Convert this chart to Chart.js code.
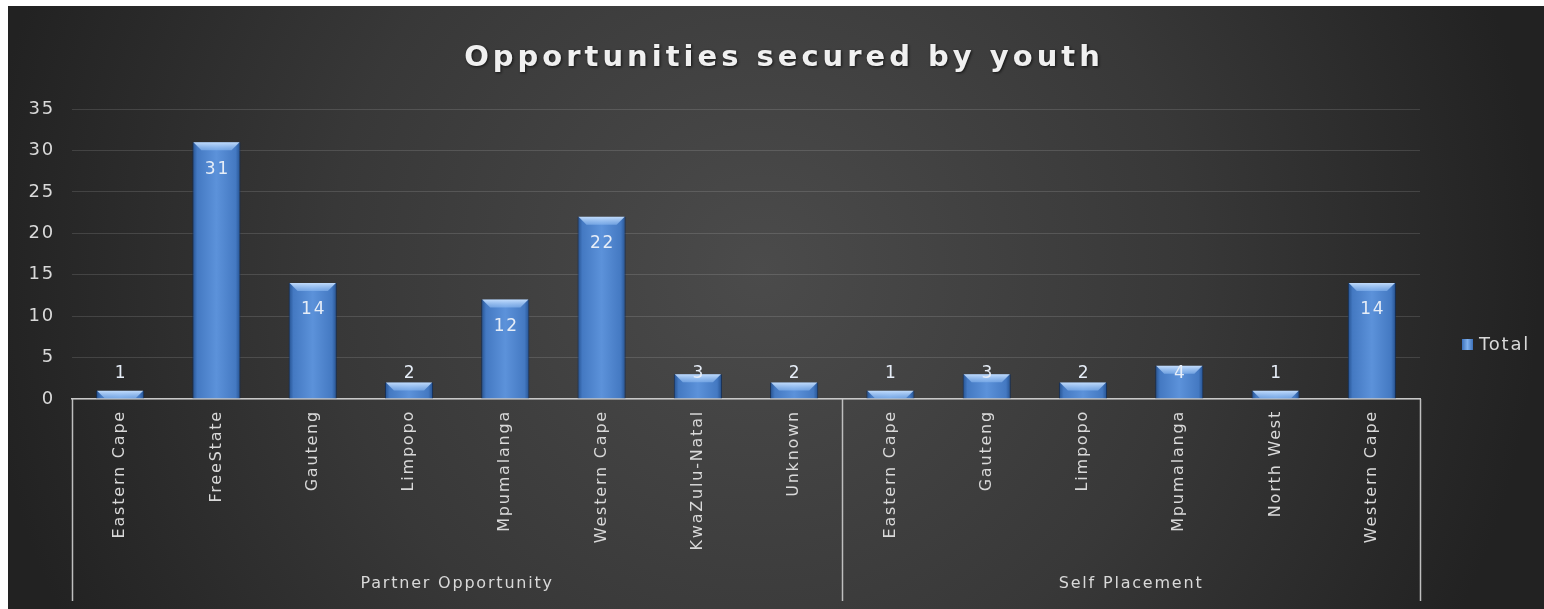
<!DOCTYPE html>
<html>
<head>
<meta charset="utf-8">
<script src="https://cdn.jsdelivr.net/npm/chart.js@4.4.1/dist/chart.umd.min.js"></script>
<style>
  html, body { margin: 0; padding: 0; background: #ffffff; }
  #wrap { position: relative; width: 1544px; height: 609px; }
</style>
</head>
<body>
<div id="wrap"><canvas id="c" width="1544" height="609"></canvas></div>
<script>
// ---- Data ----
const chartTitle = "Opportunities secured by youth";
const seriesName = "Total";
const groupNames = ["Partner Opportunity", "Self Placement"];
const partnerProvinces = ["Eastern Cape", "FreeState", "Gauteng", "Limpopo", "Mpumalanga", "Western Cape", "KwaZulu-Natal", "Unknown"];
const partnerTotals = [1, 31, 14, 2, 12, 22, 3, 2];
const selfProvinces = ["Eastern Cape", "Gauteng", "Limpopo", "Mpumalanga", "North West", "Western Cape"];
const selfTotals = [1, 3, 2, 4, 1, 14];
const yTicks = [0, 5, 10, 15, 20, 25, 30, 35];

const categories = partnerProvinces.concat(selfProvinces);
const totals = partnerTotals.concat(selfTotals);
const groupSizes = [partnerProvinces.length, selfProvinces.length];

const FONT = '"DejaVu Sans", sans-serif';
const TEXT = '#d9d9d9';
const BAR_PCT = 0.5;
const SPACING = '1.8px';

function barFill(ctx) {
  const chart = ctx.chart;
  const xs = chart.scales && chart.scales.x;
  if (!xs || ctx.dataIndex === undefined) return '#4f83c9';
  const cx = xs.getPixelForValue(ctx.dataIndex);
  const step = xs.width / categories.length;
  const w = step * BAR_PCT;
  if (!isFinite(cx)) return '#4f83c9';
  const g = chart.ctx.createLinearGradient(cx - w / 2, 0, cx + w / 2, 0);
  g.addColorStop(0, '#23508f');
  g.addColorStop(0.1, '#4479c2');
  g.addColorStop(0.5, '#5c92da');
  g.addColorStop(0.9, '#4479c2');
  g.addColorStop(1, '#23508f');
  return g;
}

const spacingPlugin = {
  id: 'spacing',
  beforeUpdate(chart) { chart.ctx.letterSpacing = SPACING; },
  beforeDraw(chart) { chart.ctx.letterSpacing = SPACING; }
};

const bgPlugin = {
  id: 'bg',
  beforeDraw(chart) {
    const c = chart.ctx;
    c.save();
    c.fillStyle = '#ffffff';
    c.fillRect(0, 0, chart.width, chart.height);
    const g = c.createRadialGradient(760, 270, 0, 760, 270, 780);
    g.addColorStop(0, '#4b4b4b');
    g.addColorStop(0.55, '#383838');
    g.addColorStop(1, '#222222');
    c.fillStyle = g;
    c.fillRect(8, 6, chart.width - 8, chart.height - 6);
    // title
    c.letterSpacing = '4px';
    c.font = 'bold 29px ' + FONT;
    c.textAlign = 'center';
    c.textBaseline = 'alphabetic';
    c.shadowColor = 'rgba(0,0,0,0.7)';
    c.shadowBlur = 3;
    c.shadowOffsetX = 1;
    c.shadowOffsetY = 1;
    c.fillStyle = '#f0f0f0';
    c.fillText(chartTitle, 784, 66);
    c.restore();
    c.letterSpacing = SPACING;
  }
};

const overlayPlugin = {
  id: 'overlay',
  afterDatasetsDraw(chart) {
    const c = chart.ctx;
    const meta = chart.getDatasetMeta(0);
    c.save();
    // top bevel
    meta.data.forEach((el) => {
      const h = Math.min(8, el.base - el.y);
      const l = el.x - el.width / 2, r = el.x + el.width / 2;
      const g = c.createLinearGradient(0, el.y, 0, el.y + h);
      g.addColorStop(0, 'rgba(200,225,255,0.95)');
      g.addColorStop(1, 'rgba(140,185,240,0.6)');
      c.fillStyle = g;
      c.beginPath();
      c.moveTo(l + 1, el.y);
      c.lineTo(r - 1, el.y);
      c.lineTo(r - 1 - h, el.y + h);
      c.lineTo(l + 1 + h, el.y + h);
      c.closePath();
      c.fill();
    });
    // data labels
    c.letterSpacing = SPACING;
    c.font = '17px ' + FONT;
    c.fillStyle = '#e6edf7';
    c.textAlign = 'center';
    c.textBaseline = 'middle';
    meta.data.forEach((el, i) => {
      const y = Math.min(el.y + 27, el.base - 25);
      c.fillText(String(totals[i]), el.x + 1, y);
    });
    c.restore();
  },
  afterDraw(chart) {
    const c = chart.ctx;
    const xs = chart.scales.x;
    const area = chart.chartArea;
    c.save();
    c.letterSpacing = SPACING;
    // group separators and labels
    const bounds = [xs.left];
    let idx = 0;
    groupSizes.forEach((n, gi) => {
      idx += n;
      if (gi < groupSizes.length - 1) {
        bounds.push((xs.getPixelForValue(idx - 1) + xs.getPixelForValue(idx)) / 2);
      }
    });
    bounds.push(xs.right);
    c.strokeStyle = '#bfbfbf';
    c.lineWidth = 1.5;
    bounds.forEach((bx) => {
      c.beginPath();
      c.moveTo(Math.round(bx) + 0.5, area.bottom);
      c.lineTo(Math.round(bx) + 0.5, 601);
      c.stroke();
    });
    c.font = '16px ' + FONT;
    c.fillStyle = TEXT;
    c.textAlign = 'center';
    c.textBaseline = 'middle';
    groupNames.forEach((name, gi) => {
      c.fillText(name, (bounds[gi] + bounds[gi + 1]) / 2, 584);
    });
    // legend
    const lx = area.right + 42, ly = 344;
    const lg = c.createLinearGradient(lx, 0, lx + 11, 0);
    lg.addColorStop(0, '#3d72bb');
    lg.addColorStop(0.5, '#7fb0ec');
    lg.addColorStop(1, '#3d72bb');
    c.fillStyle = lg;
    c.fillRect(lx, ly - 5, 11, 11);
    c.fillStyle = TEXT;
    c.font = '18px ' + FONT;
    c.textAlign = 'left';
    c.fillText(seriesName, lx + 17, ly + 1);
    c.restore();
  }
};

new Chart(document.getElementById('c'), {
  type: 'bar',
  data: {
    labels: categories,
    datasets: [{
      label: seriesName,
      data: totals,
      backgroundColor: barFill,
      borderColor: 'rgba(18,45,90,0.9)',
      borderWidth: { left: 1, right: 1, top: 0, bottom: 0 },
      borderSkipped: false,
      barPercentage: BAR_PCT,
      categoryPercentage: 1.0
    }]
  },
  options: {
    responsive: false,
    animation: false,
    devicePixelRatio: 1,
    layout: { padding: { top: 109, right: 124, bottom: 0, left: 0 } },
    plugins: {
      legend: { display: false },
      title: { display: false },
      tooltip: { enabled: false }
    },
    scales: {
      x: {
        type: 'category',
        grid: { display: false, drawTicks: false },
        border: { display: true, color: '#c8c8c8', width: 1.5 },
        ticks: {
          color: TEXT,
          font: { family: FONT, size: 16 },
          minRotation: 90,
          maxRotation: 90,
          autoSkip: false,
          padding: 11
        },
        afterFit(scale) { scale.height = 210; }
      },
      y: {
        min: 0,
        max: 35,
        afterBuildTicks(scale) { scale.ticks = yTicks.map(v => ({ value: v })); },
        grid: { color: 'rgba(255,255,255,0.13)', lineWidth: 1, drawTicks: false },
        border: { display: false },
        ticks: {
          color: TEXT,
          font: { family: FONT, size: 18 },
          padding: 17
        },
        afterFit(scale) { scale.width = 72; }
      }
    }
  },
  plugins: [spacingPlugin, bgPlugin, overlayPlugin]
});
</script>
</body>
</html>
